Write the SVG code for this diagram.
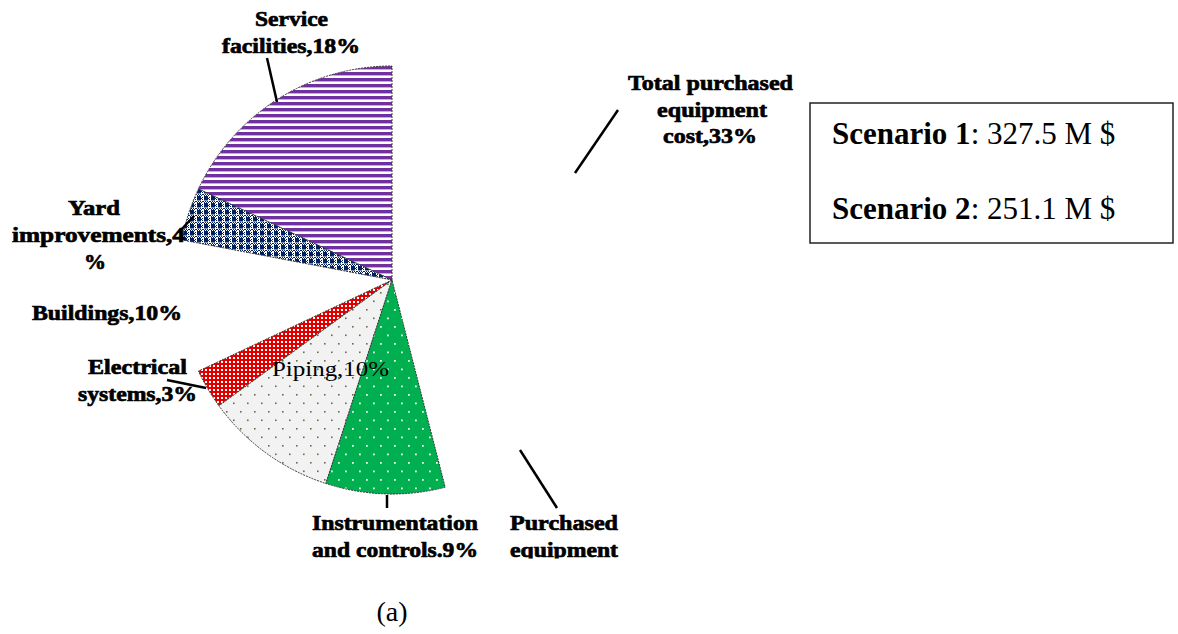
<svg xmlns="http://www.w3.org/2000/svg" width="1178" height="634" viewBox="0 0 1178 634">
  <style>
    .lbl { font-family: "Liberation Serif", "Times New Roman", serif; font-weight: bold; font-size: 22px; fill: #000; stroke: #000; stroke-width: 0.7; text-anchor: middle; }
    .reg { font-family: "Liberation Serif", "Times New Roman", serif; font-weight: normal; fill: #000; }
    .slice { stroke: #3a3a3a; stroke-width: 1; stroke-dasharray: 2 1; }
    .leader { stroke: #000; stroke-width: 2.5; fill: none; }
  </style>
  <defs>
    <pattern id="pStripes" width="8" height="6" patternUnits="userSpaceOnUse">
      <rect width="8" height="6" fill="#ffffff"/>
      <rect y="0" width="8" height="3.4" fill="#7030A0"/>
    </pattern>
    <pattern id="pBlue" width="7" height="7" patternUnits="userSpaceOnUse">
      <rect width="7" height="7" fill="#ffffff"/>
      <rect x="1" y="0" width="4" height="4.5" fill="#002060"/>
      <rect x="0" y="5" width="1" height="1" fill="#002060"/>
      <rect x="1" y="6" width="1" height="1" fill="#002060"/>
      <rect x="2" y="5" width="1" height="1" fill="#002060"/>
      <rect x="3" y="6" width="1" height="1" fill="#002060"/>
      <rect x="4" y="5" width="1" height="1" fill="#002060"/>
      <rect x="5" y="6" width="1" height="1" fill="#002060"/>
      <rect x="6" y="5" width="1" height="1" fill="#002060"/>
      <rect x="6" y="1" width="1" height="1" fill="#002060"/>
      <rect x="6" y="3" width="1" height="1" fill="#002060"/>
      <rect x="5" y="2" width="1" height="1" fill="#002060"/>
    </pattern>
    <pattern id="pRed" width="4" height="4" patternUnits="userSpaceOnUse">
      <rect width="4" height="4" fill="#e00000"/>
      <rect x="1" y="1" width="2" height="2" fill="#ffffff"/>
    </pattern>
    <pattern id="pGray" width="14" height="17" patternUnits="userSpaceOnUse">
      <rect width="14" height="17" fill="#f2f2f2"/>
      <rect x="2" y="3" width="1.6" height="1.6" fill="#6b6b4a"/>
      <rect x="9" y="11.5" width="1.6" height="1.6" fill="#6b6b4a"/>
    </pattern>
    <pattern id="pGreen" width="14" height="17" patternUnits="userSpaceOnUse">
      <rect width="14" height="17" fill="#00B050"/>
      <rect x="2" y="3" width="1.8" height="1.8" fill="#e6f7ec"/>
      <rect x="9" y="11.5" width="1.8" height="1.8" fill="#e6f7ec"/>
    </pattern>
    <clipPath id="cut">
      <rect x="0" y="0" width="1178" height="558.5"/>
    </clipPath>
  </defs>

  <rect width="1178" height="634" fill="#ffffff"/>

  <g id="service-facilities">
    <path class="slice" d="M392,280 L392,66 A214,214 0 0 0 198.4,188.9 Z" fill="url(#pStripes)"/>
    <text class="lbl" x="291.5" y="26" textLength="73" lengthAdjust="spacingAndGlyphs">Service</text>
    <text class="lbl" x="291" y="53" textLength="138" lengthAdjust="spacingAndGlyphs">facilities,18%</text>
  </g>

  <g id="yard-improvements">
    <path class="slice" d="M392,280 L198.4,188.9 A214,214 0 0 0 181.8,239.9 Z" fill="url(#pBlue)"/>
    <text class="lbl" x="94" y="215" textLength="52" lengthAdjust="spacingAndGlyphs">Yard</text>
    <text class="lbl" x="98.5" y="242" textLength="173" lengthAdjust="spacingAndGlyphs">improvements,4</text>
    <text class="lbl" x="95" y="269">%</text>
  </g>

  <g id="buildings">
    <text class="lbl" x="107" y="320" textLength="150" lengthAdjust="spacingAndGlyphs">Buildings,10%</text>
  </g>

  <g id="electrical-systems">
    <path class="slice" d="M392,280 L198.4,371.1 A214,214 0 0 0 218.9,405.8 Z" fill="url(#pRed)"/>
    <text class="lbl" x="137.5" y="374" textLength="99" lengthAdjust="spacingAndGlyphs">Electrical</text>
    <text class="lbl" x="137.5" y="401" textLength="119" lengthAdjust="spacingAndGlyphs">systems,3%</text>
  </g>

  <g id="piping">
    <path class="slice" d="M392,280 L218.9,405.8 A214,214 0 0 0 325.9,483.5 Z" fill="url(#pGray)"/>
  </g>

  <g id="instrumentation-controls">
    <path class="slice" d="M392,280 L325.9,483.5 A214,214 0 0 0 445.2,487.3 Z" fill="url(#pGreen)"/>
    <g clip-path="url(#cut)">
      <text class="lbl" x="395" y="530" textLength="166" lengthAdjust="spacingAndGlyphs">Instrumentation</text>
      <text class="lbl" x="395" y="557" textLength="166" lengthAdjust="spacingAndGlyphs">and controls.9%</text>
    </g>
  </g>

  <g id="piping-label">
    <text class="reg" x="330.5" y="376" font-size="21" text-anchor="middle" textLength="117" lengthAdjust="spacingAndGlyphs">Piping,10%</text>
  </g>

  <g id="purchased-equipment">
    <g clip-path="url(#cut)">
      <text class="lbl" x="564" y="530" textLength="108" lengthAdjust="spacingAndGlyphs">Purchased</text>
      <text class="lbl" x="564" y="557" textLength="108" lengthAdjust="spacingAndGlyphs">equipment</text>
    </g>
  </g>

  <g id="total-purchased-equipment-cost">
    <text class="lbl" x="710.5" y="90" textLength="165" lengthAdjust="spacingAndGlyphs">Total purchased</text>
    <text class="lbl" x="712" y="116.5" textLength="110" lengthAdjust="spacingAndGlyphs">equipment</text>
    <text class="lbl" x="710" y="143" textLength="94" lengthAdjust="spacingAndGlyphs">cost,33%</text>
  </g>

  <g id="connectors">
    <line class="leader" x1="267" y1="58" x2="277" y2="102"/>
    <line class="leader" x1="618" y1="110" x2="575" y2="173"/>
    <line class="leader" x1="179" y1="232" x2="194" y2="216"/>
    <line class="leader" x1="167" y1="380" x2="206" y2="388"/>
    <line class="leader" x1="387" y1="495" x2="387" y2="508"/>
    <line class="leader" x1="520" y1="450" x2="557" y2="508"/>
  </g>

  <g id="scenario-box">
    <rect x="810" y="103" width="363" height="140" fill="#ffffff" stroke="#222" stroke-width="1.5"/>
    <text class="reg" x="832" y="144" font-size="31"><tspan font-weight="bold">Scenario 1</tspan>: 327.5 M $</text>
    <text class="reg" x="832" y="219" font-size="31"><tspan font-weight="bold">Scenario 2</tspan>: 251.1 M $</text>
  </g>

  <g id="caption">
    <text class="reg" x="392" y="621" font-size="28" text-anchor="middle">(a)</text>
  </g>
</svg>
